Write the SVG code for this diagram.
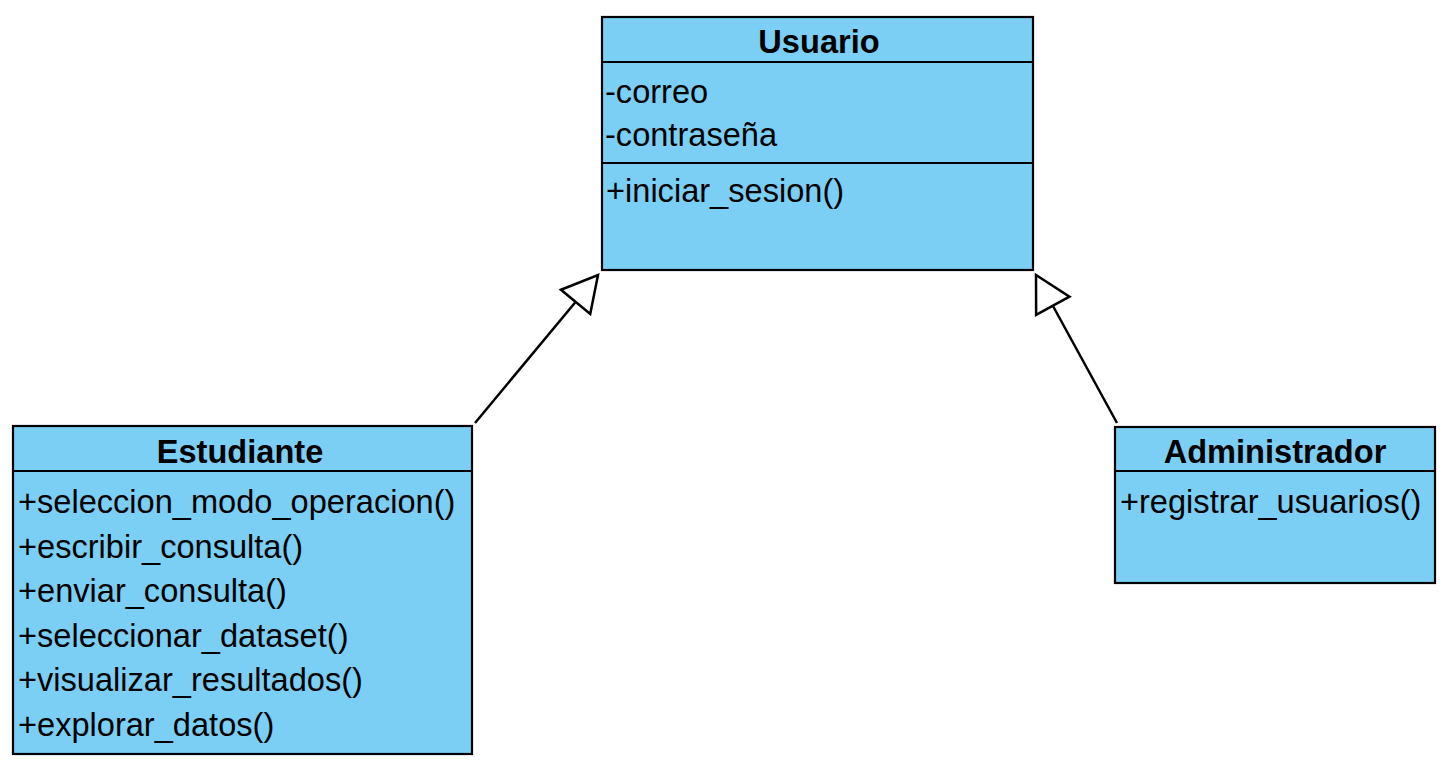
<svg xmlns="http://www.w3.org/2000/svg" width="1447" height="761" viewBox="0 0 1447 761">
<style>
.box{fill:#7BCFF4;stroke:#000;stroke-width:2.2}
.div{stroke:#000;stroke-width:2.2}
.t{font-family:"Liberation Sans",Arial,sans-serif;font-size:32.6px;fill:#000}
.h{font-weight:bold;text-anchor:middle}
.conn{stroke:#000;stroke-width:2.5;fill:none}
</style>
<defs>
<marker id="gen" markerUnits="userSpaceOnUse" markerWidth="42" markerHeight="44" viewBox="0 0 42 44" refX="38" refY="22" orient="auto">
<path d="M3,3 L38,22 L3,41 Z" fill="#fff" stroke="#000" stroke-width="2.5" stroke-linejoin="miter"/>
</marker>
</defs>
<rect width="1447" height="761" fill="#fff"/>
<g id="connectors">
<line class="conn" x1="475" y1="423" x2="598" y2="275" marker-end="url(#gen)"/>
<line class="conn" x1="1117" y1="423" x2="1036" y2="275" marker-end="url(#gen)"/>
</g>
<g id="usuario">
<rect class="box" x="602" y="17" width="431" height="253"/>
<line class="div" x1="602" y1="62" x2="1033" y2="62"/>
<line class="div" x1="602" y1="163" x2="1033" y2="163"/>
<text class="t h" x="819" y="53">Usuario</text>
<text class="t" x="605" y="103">-correo</text>
<text class="t" x="605" y="146">-contraseña</text>
<text class="t" x="606" y="202">+iniciar_sesion()</text>
</g>
<g id="estudiante">
<rect class="box" x="13" y="426" width="459" height="328"/>
<line class="div" x1="13" y1="471" x2="472" y2="471"/>
<text class="t h" x="240" y="463">Estudiante</text>
<text class="t" x="18" y="513">+seleccion_modo_operacion()</text>
<text class="t" x="18" y="558">+escribir_consulta()</text>
<text class="t" x="18" y="602">+enviar_consulta()</text>
<text class="t" x="18" y="647">+seleccionar_dataset()</text>
<text class="t" x="18" y="691">+visualizar_resultados()</text>
<text class="t" x="18" y="736">+explorar_datos()</text>
</g>
<g id="administrador">
<rect class="box" x="1115" y="427" width="320" height="156"/>
<line class="div" x1="1115" y1="471" x2="1435" y2="471"/>
<text class="t h" x="1275" y="463">Administrador</text>
<text class="t" x="1120" y="513">+registrar_usuarios()</text>
</g>
</svg>
